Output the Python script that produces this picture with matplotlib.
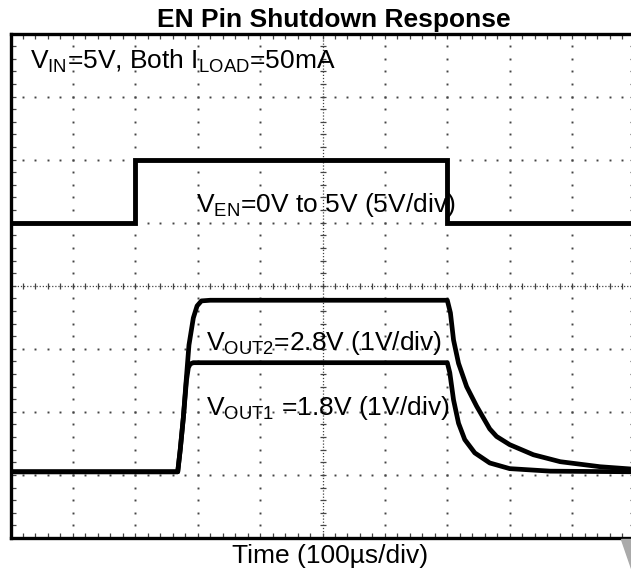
import matplotlib
matplotlib.use("Agg")
import matplotlib.pyplot as plt
import numpy as np
from matplotlib.patches import Polygon

plt.rcParams['font.family'] = ['Liberation Sans', 'DejaVu Sans']
plt.rcParams['mathtext.fontset'] = 'custom'
plt.rcParams['mathtext.rm'] = 'Liberation Sans'

# --- scope traces (time in us, level in V) ---
en_t = [0, 200, 200, 700, 700, 1000]
en_v = [0, 0, 5, 5, 0, 0]

vout1_t = [0, 268, 272, 277, 282, 285, 288, 293, 700, 704, 710, 718, 728, 744,
           768, 800, 865, 1000]
vout1_v = [0, 0, 0.35, 0.86, 1.45, 1.65, 1.71, 1.73, 1.73, 1.57, 1.14, 0.77,
           0.51, 0.30, 0.14, 0.05, 0.01, 0]

vout2_t = [0, 268, 272, 277, 281, 286, 293, 299, 306, 320, 700, 705, 710, 718,
           731, 747, 768, 779, 800, 838, 881, 945, 1000]
vout2_v = [0, 0, 0.35, 0.86, 1.38, 2.01, 2.44, 2.63, 2.71, 2.72, 2.72, 2.52,
           2.09, 1.72, 1.35, 1.04, 0.68, 0.56, 0.43, 0.27, 0.16, 0.08, 0.04]

# channel offsets (div) and scales (V/div)
en_off, en_scale = 1.0, 5.0
out_off, out_scale = -2.95, 1.0

fig = plt.figure(figsize=(6.31, 5.73), dpi=100)
W, H = 631, 573
left, right, top, bottom = 10.5, 634.5, 33.5, 538.0
ax = fig.add_axes([left / W, 1 - bottom / H, (right - left) / W, (bottom - top) / H])
ax.set_xlim(0, 1000)
ax.set_ylim(-4, 4)

# graticule
dot_c = '#444444'
ydots = np.arange(-4, 4.001, 0.2)
xdots = np.arange(0, 1000.1, 20)
for xm in range(100, 1000, 100):
    if xm == 500:
        continue
    ax.plot(np.full(len(ydots), xm), ydots, ls='none', marker='s', ms=1.4,
            mew=0, color=dot_c, zorder=1)
for ym in range(-3, 4):
    if ym == 0:
        continue
    ax.plot(xdots, np.full(len(xdots), ym), ls='none', marker='s', ms=1.4,
            mew=0, color=dot_c, zorder=1)
ax.axvline(500, ls=(0, (1, 1.5)), lw=0.9, color=dot_c, zorder=1)
ax.axhline(0, ls=(0, (1, 1.5)), lw=0.9, color=dot_c, zorder=1)
ax.plot(xdots, np.zeros(len(xdots)), ls='none', marker='|', ms=5, mew=0.9,
        color=dot_c, zorder=1)
ax.plot(np.full(len(ydots), 500), ydots, ls='none', marker='_', ms=5, mew=0.9,
        color=dot_c, zorder=1)

ax.set_xticks(np.arange(0, 1001, 100))
ax.set_xticks(np.arange(0, 1001, 20), minor=True)
ax.set_yticks(np.arange(-4, 5, 1))
ax.set_yticks(np.arange(-4, 4.01, 0.2), minor=True)
ax.tick_params(which='both', direction='in', length=3.5, width=0.9,
               color=dot_c, top=True, right=True,
               labelbottom=False, labelleft=False)
for s in ax.spines.values():
    s.set_linewidth(2.4)

# traces
ax.plot(en_t, en_off + np.array(en_v) / en_scale, color='black', lw=3.5,
        solid_joinstyle='miter', zorder=3)
ax.plot(vout1_t, out_off + np.array(vout1_v) / out_scale, color='black',
        lw=3.4, zorder=3)
ax.plot(vout2_t, out_off + np.array(vout2_v) / out_scale, color='black',
        lw=3.4, zorder=3)

# labels
fs = 19
ax.text(31, 3.45, r'V$_{\mathrm{IN}}$=5V, Both I$_{\mathrm{LOAD}}$=50mA',
        fontsize=fs, va='baseline', zorder=4)
ax.text(298, 1.17, r'V$_{\mathrm{EN}}$=0V to 5V (5V/div)', fontsize=fs,
        va='baseline', zorder=4)
ax.text(314, -1.02, r'V$_{\mathrm{OUT2}}$=2.8V (1V/div)', fontsize=fs,
        va='baseline', zorder=4)
ax.text(314, -2.05, r'V$_{\mathrm{OUT1}}$ =1.8V (1V/div)', fontsize=fs,
        va='baseline', zorder=4)

fig.text(333.5 / W, 1 - 26.7 / H, 'EN Pin Shutdown Response', fontsize=19,
         fontweight='bold', ha='center', va='baseline')
fig.text(330.5 / W, 1 - 562.7 / H, 'Time (100µs/div)', fontsize=19,
         ha='center', va='baseline')

# grey corner mark at lower right
fig.patches.append(Polygon([[621 / W, 1 - 539 / H], [1.0, 1 - 539 / H],
                            [1.0, 1 - 568 / H]], closed=True,
                           transform=fig.transFigure, color='#aaaaaa'))

fig.savefig('out.png', dpi=100)
